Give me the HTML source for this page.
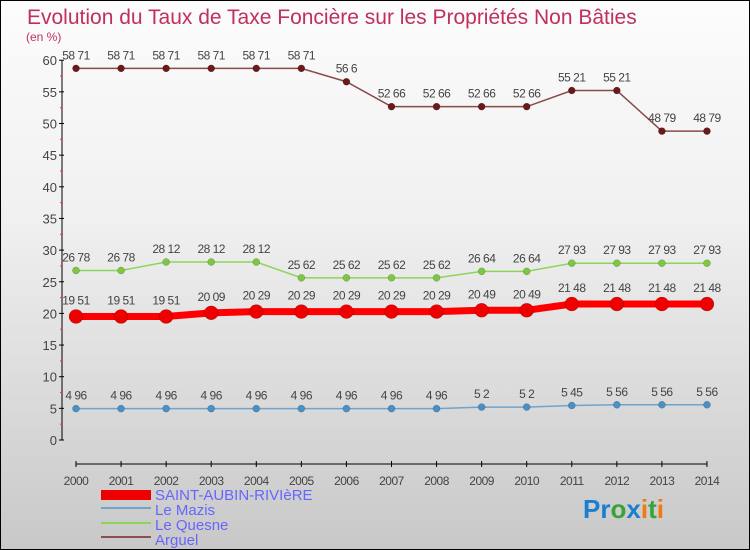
<!DOCTYPE html>
<html><head><meta charset="utf-8"><style>
body{margin:0;}
#wrap{width:748px;height:548px;border:1px solid #000;background:linear-gradient(#fcfcfc,#f0f0f0 40%,#c8c8c8);position:relative;font-family:"Liberation Sans",sans-serif;overflow:hidden}
</style></head><body>
<div id="wrap">
<svg id="chart" width="748" height="548" style="position:absolute;left:0;top:0">
<text x="26" y="23" font-size="21" fill="#c0305a">Evolution du Taux de Taxe Foncière sur les Propriétés Non Bâties</text>
<text x="25" y="40" font-size="12" fill="#c0305a">(en %)</text>
<g id="axes"></g><g id="series"></g>
<g>
<rect x="100" y="489" width="50" height="10" fill="#e00"/>
<text x="154" y="499" font-size="15" fill="#66f">SAINT-AUBIN-RIVIèRE</text>
<rect x="100" y="506" width="50" height="2" fill="#6fa4cc"/>
<text x="154" y="514" font-size="15" fill="#66f">Le Mazis</text>
<rect x="100" y="521" width="50" height="2" fill="#8fd45a"/>
<text x="154" y="529" font-size="15" fill="#66f">Le Quesne</text>
<rect x="100" y="535" width="50" height="2" fill="#8a5050"/>
<text x="154" y="544" font-size="15" fill="#66f">Arguel</text>
</g>
<text x="582" y="517" font-size="26" font-weight="bold"><tspan fill="#1a7fd0">Pr</tspan><tspan fill="#3aa23a">o</tspan><tspan fill="#1a7fd0">x</tspan><tspan fill="#f07a10">i</tspan><tspan fill="#3aa23a">t</tspan><tspan fill="#f07a10">i</tspan></text>
</svg>
</div>
<script>
const years=[2000,2001,2002,2003,2004,2005,2006,2007,2008,2009,2010,2011,2012,2013,2014];
const yTicks=[0,5,10,15,20,25,30,35,40,45,50,55,60];
const saintAubin=[19.51,19.51,19.51,20.09,20.29,20.29,20.29,20.29,20.29,20.49,20.49,21.48,21.48,21.48,21.48];
const leMazis=[4.96,4.96,4.96,4.96,4.96,4.96,4.96,4.96,4.96,5.2,5.2,5.45,5.56,5.56,5.56];
const leQuesne=[26.78,26.78,28.12,28.12,28.12,25.62,25.62,25.62,25.62,26.64,26.64,27.93,27.93,27.93,27.93];
const arguel=[58.71,58.71,58.71,58.71,58.71,58.71,56.6,52.66,52.66,52.66,52.66,55.21,55.21,48.79,48.79];
const NS="http://www.w3.org/2000/svg";
function X(i){return 75+i*45.07;}
function Y(v){return 439-v*6.33;}
function mk(tag,attrs,parent){const e=document.createElementNS(NS,tag);for(const k in attrs)e.setAttribute(k,attrs[k]);parent.appendChild(e);return e;}
const ax=document.getElementById('axes');
let yl=mk('line',{x1:61,y1:Y(60),x2:61,y2:Y(0),stroke:'#000','stroke-width':1},ax);


yTicks.forEach(v=>{
 mk('line',{x1:58,y1:Y(v),x2:63,y2:Y(v),stroke:'#000'},ax);
 if(v<60){mk('line',{x1:59,y1:Y(v+2.5),x2:62,y2:Y(v+2.5),stroke:'#f33'},ax);}
 const t=mk('text',{x:56,y:Y(v)+5,'font-size':13,fill:'#444','text-anchor':'end'},ax);
 t.textContent=v;
 
 
});
let xl=mk('line',{x1:X(0),y1:463,x2:X(14),y2:463,stroke:'#000'},ax);


years.forEach((yr,i)=>{
 mk('line',{x1:X(i),y1:460,x2:X(i),y2:466,stroke:'#000'},ax);
 const t=mk('text',{x:X(i),y:484,'font-size':12,fill:'#444','text-anchor':'middle','letter-spacing':'-0.5'},ax);
 t.textContent=yr;
 
 
});
const sg=document.getElementById('series');
function draw(arr,name,color,dot,lw,r,labels){
 const g=mk('g',{},sg);
 
 
 mk('polyline',{points:arr.map((v,i)=>X(i)+','+Y(v)).join(' '),fill:'none',stroke:color,'stroke-width':lw},g);
 arr.forEach((v,i)=>{
  const c=mk('circle',{cx:X(i),cy:Y(v),r:r,fill:dot,stroke:'rgba(0,0,0,0.3)','stroke-width':0.5},g);
  
  
  if(labels){
   const t=mk('text',{x:X(i),y:Y(v)-9,'font-size':12,fill:'#444','text-anchor':'middle','letter-spacing':'-0.5'},g);
   t.textContent=String(v).replace('.',' ');
   
   
  }
 });
}
draw(arguel,'arguel','#8a4a4a','#6a1a1a',1.5,3.5,true);
draw(leQuesne,'le-quesne','#8fd45a','#7cc840',1.5,3.5,true);
draw(leMazis,'le-mazis','#6fa4cc','#4a90c4',1.5,3.5,true);
draw(saintAubin,'saint-aubin','#f00','#e00',7,7,false);
saintAubin.forEach((v,i)=>{
 const t=mk('text',{x:X(i),y:Y(v)-12,'font-size':12,fill:'#444','text-anchor':'middle','letter-spacing':'-0.5'},sg);
 t.textContent=String(v).replace('.',' ');
 
 
});
</script>
</body></html>
